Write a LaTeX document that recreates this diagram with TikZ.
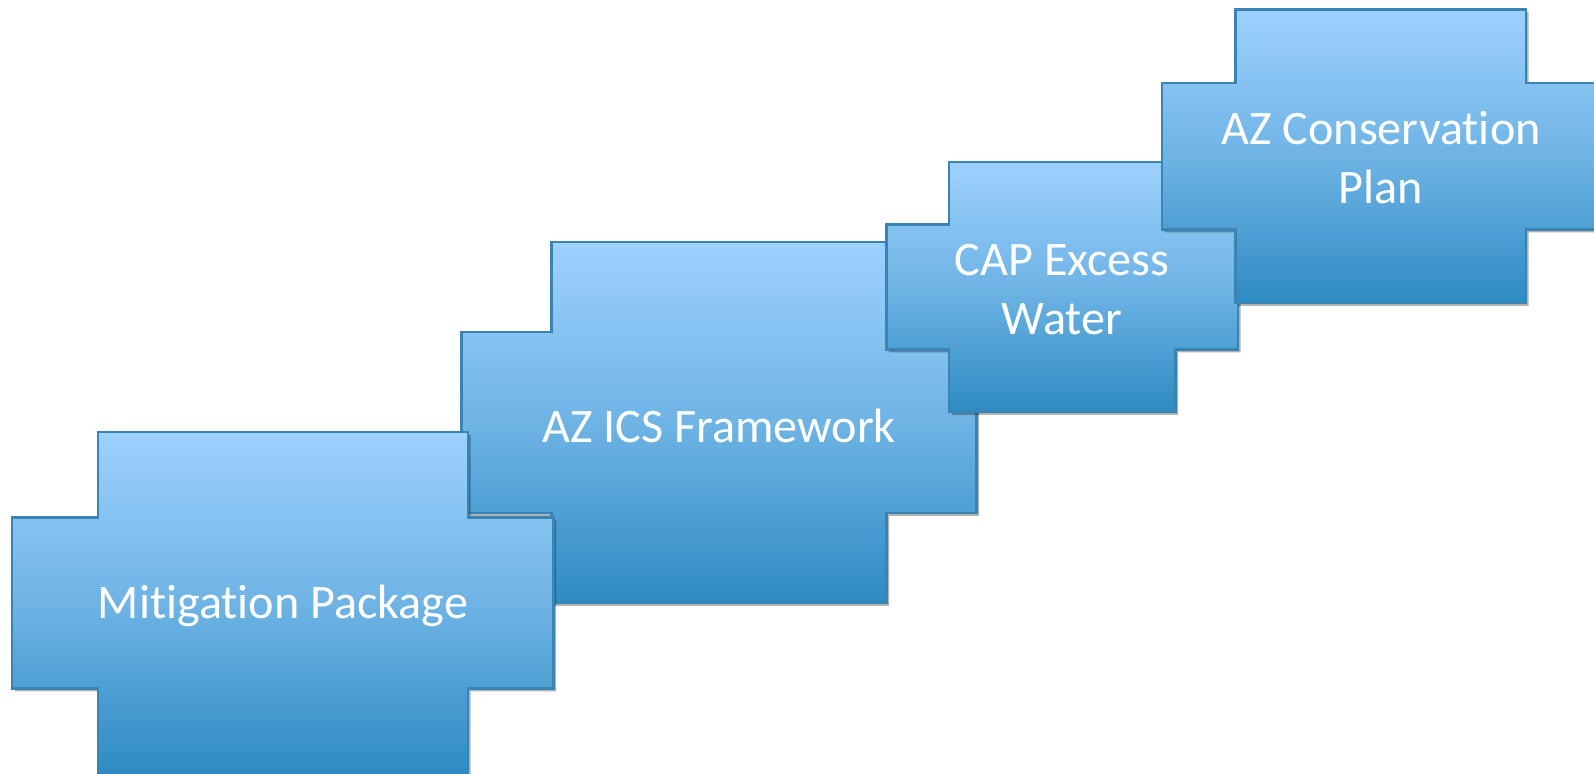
\documentclass[tikz,border=0pt]{standalone}
\usepackage{fontspec}
\setmainfont{Carlito}[Ligatures=NoCommon, RawFeature=-liga, RawFeature=-clig, RawFeature=-calt]
\usepackage{xcolor}
\usepackage{tikz}
\usetikzlibrary{shadows}

\definecolor{crosstop}{RGB}{157,209,254}
\definecolor{crossbottom}{RGB}{46,139,194}
\definecolor{crossedge}{RGB}{58,132,180}

% cross outline: left x, top y, width, height, arm inset (pixels, y down)
\newcommand{\crosspath}[5]{(#1+#5,#2) -- ++(#3-2*#5,0) -- ++(0,#5) -- ++(#5,0)
  -- ++(0,#4-2*#5) -- ++(-#5,0) -- ++(0,#5) -- ++(-#3+2*#5,0) -- ++(0,-#5)
  -- ++(-#5,0) -- ++(0,-#4+2*#5) -- ++(#5,0) -- cycle}

\begin{document}
\begin{tikzpicture}[
  x=0.01cm, y=-0.01cm,
  crossbox/.style={draw=crossedge, line width=0.6pt,
              top color=crosstop, bottom color=crossbottom,
              middle color=crosstop!58!crossbottom,
              drop shadow={shadow xshift=0.025cm, shadow yshift=-0.03cm,
                           opacity=0.3, fill=black}},
  crosstext/.style={text=white, align=center,
              font=\fontsize{13.7}{16.8}\selectfont},
]
\path[use as bounding box, clip] (0,0) rectangle (1594,774);

% === Back to front ===
\path[crossbox] \crosspath{461.5}{242}{515}{361}{90};
\path[crossbox] \crosspath{12.3}{432}{541.2}{342}{85.5};
\path[crossbox] \crosspath{886.5}{162}{351.5}{250}{62.5};
\path[crossbox] \crosspath{1162}{9.5}{437.5}{293.5}{73.5};

% === Texts ===
\node[crosstext] (framework) at (719,426) {AZ ICS Framework};
\node[crosstext] (mitigation) at (283,606) {Mitigation Package};
\node[crosstext] (excess) at (1062,290) {CAP Excess\\Water};
\node[crosstext] (conservation) at (1381,158) {AZ Conservation\\Plan};

\end{tikzpicture}
\end{document}
